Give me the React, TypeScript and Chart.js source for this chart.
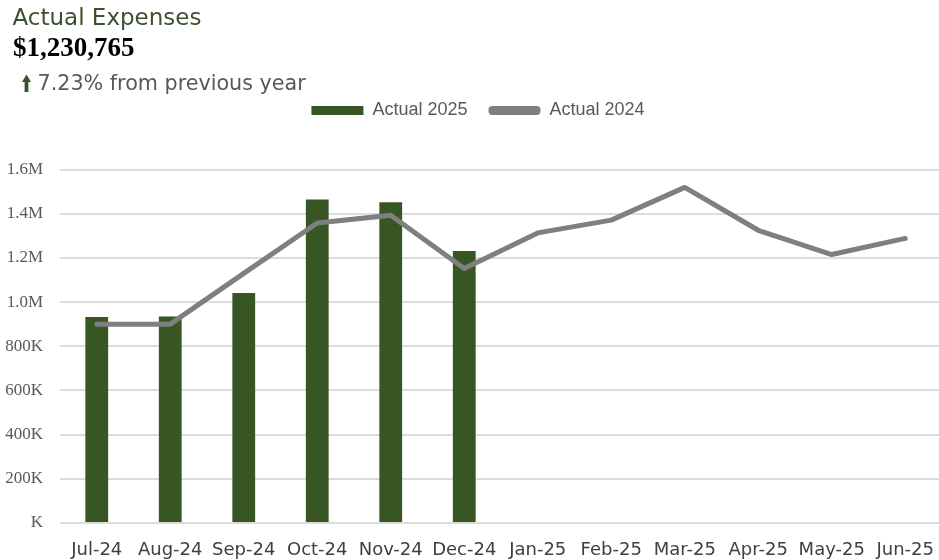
import React, { useEffect, useRef } from "react";
import { Chart, registerables } from "chart.js";

Chart.register(...registerables);

const categories = ["Jul-24", "Aug-24", "Sep-24", "Oct-24", "Nov-24", "Dec-24", "Jan-25", "Feb-25", "Mar-25", "Apr-25", "May-25", "Jun-25"];
const actual2025 = [932000, 935000, 1041000, 1464000, 1452000, 1230765, null, null, null, null, null, null];
const actual2024 = [900000, 900000, 1130000, 1358000, 1393000, 1152000, 1313000, 1371000, 1519000, 1325000, 1215000, 1288000];
const yTickLabels = ["K", "200K", "400K", "600K", "800K", "1.0M", "1.2M", "1.4M", "1.6M"];
const legendLabels = ["Actual 2025", "Actual 2024"];
const headerTitle = "Actual Expenses";
const headerValue = "$1,230,765";
const headerChange = "7.23% from previous year";

const GREEN = "#375623";
const GRAY = "#7f7f7f";

// Extra space below the legend row and a small horizontal nudge of the legend row
const legendSpacer = {
  id: "legendSpacer",
  afterInit(chart: any) {
    const lg = chart.legend;
    if (!lg) return;
    const origFit = lg.fit.bind(lg);
    lg.fit = function () {
      origFit();
      this.height += 40;
      if (this.lineWidths && this.lineWidths.length) this.lineWidths[0] -= 14;
    };
  },
};

export default function App() {
  const ref = useRef<HTMLCanvasElement>(null);

  useEffect(() => {
    const chart = new Chart(ref.current as HTMLCanvasElement, {
      type: "bar",
      data: {
        labels: categories,
        datasets: [
          {
            type: "bar",
            label: legendLabels[0],
            data: actual2025,
            backgroundColor: GREEN,
            barPercentage: 0.31,
            categoryPercentage: 1,
            order: 2,
          },
          {
            type: "line",
            label: legendLabels[1],
            data: actual2024,
            borderColor: GRAY,
            backgroundColor: GRAY,
            borderWidth: 5,
            pointRadius: 0,
            tension: 0,
            borderJoinStyle: "round",
            borderCapStyle: "round",
            order: 1,
          },
        ] as any,
      },
      plugins: [legendSpacer],
      options: {
        animation: false,
        responsive: false,
        maintainAspectRatio: false,
        layout: { padding: { top: 80.5, right: 2, left: 0, bottom: 0 } },
        plugins: {
          tooltip: { enabled: false },
          legend: {
            display: true,
            position: "top",
            labels: {
              boxWidth: 52,
              boxHeight: 9,
              padding: 21,
              useBorderRadius: true,
              color: "#595959",
              font: { family: "'Liberation Sans', Arial, sans-serif", size: 18 },
              generateLabels: () => [
                {
                  text: legendLabels[0],
                  fillStyle: GREEN,
                  strokeStyle: GREEN,
                  lineWidth: 0,
                  borderRadius: 0,
                  datasetIndex: 0,
                  hidden: false,
                  fontColor: "#595959",
                },
                {
                  text: legendLabels[1],
                  fillStyle: GRAY,
                  strokeStyle: GRAY,
                  lineWidth: 0,
                  borderRadius: 4,
                  datasetIndex: 1,
                  hidden: false,
                  fontColor: "#595959",
                },
              ] as any,
            },
          },
        },
        scales: {
          x: {
            grid: { display: false },
            border: { display: false },
            ticks: {
              color: "#404040",
              font: { family: "'DejaVu Sans', sans-serif", size: 18 },
              padding: 9,
              maxRotation: 0,
              autoSkip: false,
            },
            afterFit: (s: any) => {
              s.height = 37;
            },
          },
          y: {
            min: 0,
            max: 1600000,
            grid: { color: "#dcdcdc", lineWidth: 2, drawTicks: false },
            border: { display: false },
            ticks: {
              stepSize: 200000,
              color: "#595959",
              font: { family: "'Liberation Serif', 'Times New Roman', serif", size: 17 },
              padding: 17,
              callback: (_v: any, i: number) => yTickLabels[i],
            },
            afterFit: (s: any) => {
              s.width = 60;
            },
          },
        },
      },
    });
    return () => chart.destroy();
  }, []);

  return (
    <div
      style={{
        position: "fixed",
        left: 0,
        top: 0,
        width: 939,
        height: 560,
        overflow: "hidden",
        background: "#ffffff",
      }}
    >
      <canvas ref={ref} width={944} height={560} style={{ position: "absolute", left: 0, top: 0, width: 944, height: 560 }} />
      <div
        style={{
          position: "absolute",
          left: 12.5,
          top: 6,
          fontFamily: "'DejaVu Sans', sans-serif",
          fontSize: 23,
          lineHeight: "23px",
          color: "#3d5030",
          whiteSpace: "nowrap",
        }}
      >
        {headerTitle}
      </div>
      <div
        style={{
          position: "absolute",
          left: 13,
          top: 34,
          fontFamily: "'Liberation Serif', 'Times New Roman', serif",
          fontWeight: "bold",
          fontSize: 27,
          lineHeight: "27px",
          color: "#000000",
          whiteSpace: "nowrap",
        }}
      >
        {headerValue}
      </div>
      <svg
        width={11}
        height={19}
        viewBox="0 0 11 19"
        style={{ position: "absolute", left: 21, top: 73.5 }}
      >
        <polygon points="1,8 5.5,0.5 10,8 7.4,8 7.4,18 3.6,18 3.6,8" fill={GREEN} />
      </svg>
      <div
        style={{
          position: "absolute",
          left: 37.5,
          top: 73,
          fontFamily: "'DejaVu Sans', sans-serif",
          fontSize: 20.7,
          lineHeight: "21px",
          color: "#595959",
          whiteSpace: "nowrap",
        }}
      >
        {headerChange}
      </div>
    </div>
  );
}
